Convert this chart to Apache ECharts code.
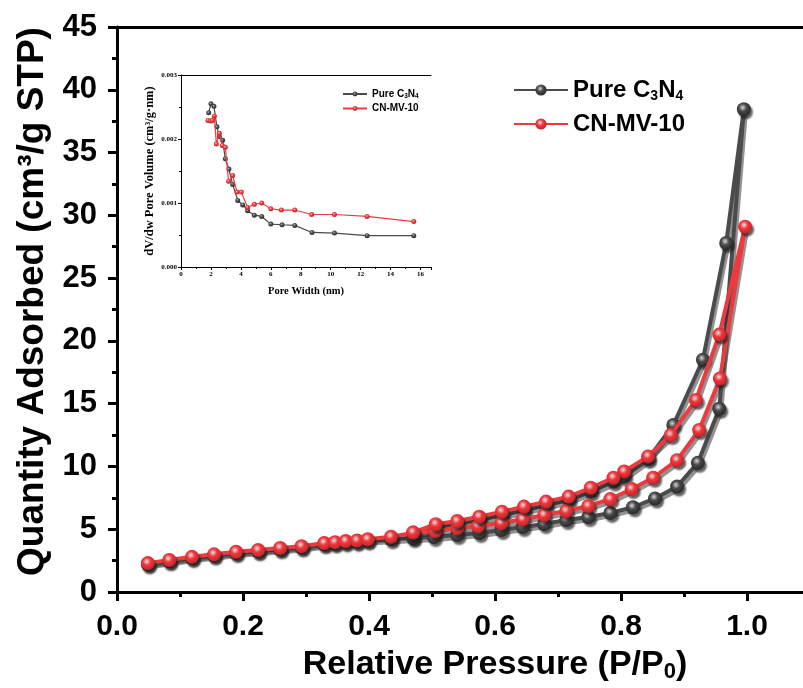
<!DOCTYPE html>
<html>
<head>
<meta charset="utf-8">
<script src="https://cdn.jsdelivr.net/npm/echarts@6/dist/echarts.min.js"></script>
<style>
  html, body { margin: 0; padding: 0; background: #fff; overflow: hidden; }
  #main { width: 880px; height: 688px; }
</style>
</head>
<body>
<div id="main"></div>
<script>
// main isotherm: adsorption branch then desorption branch (P/P0, cm3/g STP)
var pureP = [0.049, 0.083, 0.119, 0.154, 0.189, 0.224, 0.259, 0.293, 0.329, 0.346, 0.363, 0.381, 0.398, 0.435, 0.470, 0.503, 0.540, 0.575, 0.610, 0.644, 0.678, 0.713, 0.748, 0.783, 0.819, 0.854, 0.889, 0.922, 0.956, 0.995,
             0.967, 0.930, 0.883, 0.843, 0.805, 0.788, 0.752, 0.717, 0.681, 0.646, 0.611, 0.575, 0.540, 0.506, 0.470];
var pureQ = [2.2, 2.45, 2.7, 2.9, 3.1, 3.25, 3.4, 3.55, 3.8, 3.87, 3.95, 4.0, 4.1, 4.2, 4.3, 4.38, 4.54, 4.7, 4.94, 5.17, 5.41, 5.73, 5.97, 6.3, 6.75, 7.45, 8.4, 10.3, 14.6, 38.45,
             27.8, 18.5, 13.3, 10.6, 9.2, 8.8, 8.0, 7.35, 6.9, 6.5, 6.1, 5.75, 5.45, 5.2, 4.4];
var cnP = [0.049, 0.083, 0.119, 0.154, 0.189, 0.224, 0.259, 0.293, 0.329, 0.346, 0.363, 0.381, 0.398, 0.435, 0.470, 0.505, 0.540, 0.573, 0.610, 0.644, 0.678, 0.713, 0.748, 0.783, 0.817, 0.851, 0.889, 0.924, 0.957, 0.997,
           0.956, 0.919, 0.879, 0.843, 0.805, 0.788, 0.752, 0.717, 0.681, 0.646, 0.611, 0.575, 0.540, 0.506, 0.470];
var cnQ = [2.3, 2.55, 2.8, 3.0, 3.2, 3.34, 3.5, 3.65, 3.9, 3.97, 4.06, 4.1, 4.2, 4.4, 4.7, 4.86, 5.1, 5.25, 5.5, 5.8, 6.13, 6.45, 6.85, 7.4, 8.2, 9.1, 10.5, 12.9, 17.0, 29.1,
           20.5, 15.3, 12.5, 10.8, 9.6, 9.1, 8.3, 7.6, 7.2, 6.8, 6.4, 6.0, 5.65, 5.4, 4.75];

// inset: pore size distribution (nm, cm3/g·nm)
var pureW = [1.85, 2.0, 2.2, 2.4, 2.56, 2.78, 2.96, 3.2, 3.45, 3.79, 4.12, 4.45, 4.9, 5.39, 6.0, 6.75, 7.6, 8.75, 10.25, 12.43, 15.55];
var pureV = [0.00241, 0.00255, 0.00251, 0.00219, 0.00204, 0.00198, 0.00169, 0.00153, 0.00129, 0.00104, 0.00097, 0.00088, 0.00081, 0.00079, 0.00067, 0.00066, 0.00065, 0.00054, 0.00053, 0.00049, 0.00049];
var cnW = [1.8, 1.96, 2.09, 2.23, 2.36, 2.56, 2.76, 2.96, 3.18, 3.45, 3.74, 4.03, 4.45, 4.9, 5.39, 6.0, 6.7, 7.6, 8.73, 10.25, 12.43, 15.55];
var cnV = [0.00229, 0.00228, 0.00229, 0.00236, 0.00192, 0.00209, 0.0019, 0.00187, 0.00134, 0.00143, 0.00117, 0.00117, 0.00093, 0.00098, 0.001, 0.00091, 0.00089, 0.00089, 0.00082, 0.00082, 0.00079, 0.00071];

var xTicks = [0, 0.2, 0.4, 0.6, 0.8, 1.0];

function pairs(a, b) {
  var out = [];
  for (var i = 0; i < a.length; i++) out.push([a[i], b[i]]);
  return out;
}
function ball(c0, c1, c2) {
  return new echarts.graphic.RadialGradient(0.42, 0.38, 0.6, [
    { offset: 0, color: c0 }, { offset: 0.45, color: c1 }, { offset: 1, color: c2 }
  ]);
}

var GRAY = '#4b4b4b', RED = '#ec3a3f';
var sans = '"Liberation Sans", Arial, sans-serif';
var serif = '"Liberation Serif", "Times New Roman", serif';

// the div is wider than the window: the x axis runs on past 1.0 and is cut off at the right edge
var chart = echarts.init(document.getElementById('main'));

var option = {
  animation: false,
  backgroundColor: '#fff',
  grid: [
    { left: 117, top: 27, width: 756, bottom: 96, containLabel: false },
    { left: 181, top: 75, width: 250, height: 192, containLabel: false }
  ],
  legend: [
    {
      data: ['Pure C3N4', 'CN-MV-10'],
      left: 508, top: 73, orient: 'vertical', itemGap: 9,
      itemWidth: 54, itemHeight: 14,
      formatter: function (n) {
        return n === 'Pure C3N4' ? '{b|Pure C}{s|3}{b|N}{s|4}' : '{b|' + n + '}';
      },
      textStyle: {
        rich: {
          b: { fontFamily: sans, fontWeight: 'bold', fontSize: 24, color: '#000', lineHeight: 26 },
          s: { fontFamily: sans, fontWeight: 'bold', fontSize: 14, color: '#000', verticalAlign: 'bottom', lineHeight: 12 }
        }
      }
    },
    {
      data: ['Pure C3N4 ', 'CN-MV-10 '],
      left: 337, top: 84, orient: 'vertical', itemGap: 4,
      itemWidth: 24, itemHeight: 6,
      formatter: function (n) {
        return n === 'Pure C3N4 ' ? '{b|Pure C}{s|3}{b|N}{s|4}' : '{b|' + n.trim() + '}';
      },
      textStyle: {
        rich: {
          b: { fontFamily: sans, fontWeight: 'bold', fontSize: 10, color: '#000', lineHeight: 11 },
          s: { fontFamily: sans, fontWeight: 'bold', fontSize: 6.5, color: '#000', verticalAlign: 'bottom', lineHeight: 5 }
        }
      }
    }
  ],
  xAxis: [
    {
      type: 'value', gridIndex: 0, min: 0, max: 1.2, interval: 0.2,
      name: '{a|Relative Pressure (P/P}{s|0}{a|)}',
      nameLocation: 'middle', nameGap: 55,
      nameTextStyle: {
        rich: {
          a: { fontFamily: sans, fontWeight: 'bold', fontSize: 34, color: '#000', lineHeight: 36 },
          s: { fontFamily: sans, fontWeight: 'bold', fontSize: 22, color: '#000', verticalAlign: 'bottom', lineHeight: 20 }
        }
      },
      axisLine: { onZero: false, lineStyle: { color: '#000', width: 3 } },
      axisTick: { inside: false, length: 9, lineStyle: { width: 3 } },
      minorTick: { show: true, splitNumber: 2, length: 5, lineStyle: { color: '#000', width: 3 } },
      axisLabel: {
        fontFamily: sans, fontWeight: 'bold', fontSize: 30, color: '#000', margin: 20,
        formatter: function (v) { return xTicks.indexOf(+v.toFixed(1)) >= 0 ? v.toFixed(1) : ''; }
      },
      splitLine: { show: false }
    },
    {
      type: 'value', gridIndex: 0, position: 'top', min: 0, max: 1.2,
      axisLine: { onZero: false, lineStyle: { color: '#000', width: 3 } },
      axisTick: { show: false }, axisLabel: { show: false }, splitLine: { show: false }
    },
    {
      type: 'value', gridIndex: 1, min: 0, max: 16.7, interval: 2,
      name: 'Pore Width (nm)', nameLocation: 'middle', nameGap: 19,
      nameTextStyle: { fontFamily: serif, fontWeight: 'bold', fontSize: 10.5, color: '#000' },
      axisLine: { onZero: false, lineStyle: { color: '#000', width: 1 } },
      axisTick: { length: 3, lineStyle: { width: 1 } },
      minorTick: { show: true, splitNumber: 2, length: 2, lineStyle: { color: '#000' } },
      axisLabel: {
        fontFamily: serif, fontWeight: 'bold', fontSize: 7, color: '#000', margin: 4,
        formatter: function (v) { return v <= 16 ? String(v) : ''; }
      },
      splitLine: { show: false }
    },
    {
      type: 'value', gridIndex: 1, position: 'top', min: 0, max: 16.7,
      axisLine: { onZero: false, lineStyle: { color: '#000', width: 1 } },
      axisTick: { show: false }, axisLabel: { show: false }, splitLine: { show: false }
    }
  ],
  yAxis: [
    {
      type: 'value', gridIndex: 0, min: 0, max: 45, interval: 5,
      name: 'Quantity Adsorbed (cm³/g STP)', nameLocation: 'middle', nameGap: 66,
      nameTextStyle: { fontFamily: sans, fontWeight: 'bold', fontSize: 37, color: '#000', padding: [0, 0, 0, 16] },
      axisLine: { onZero: false, lineStyle: { color: '#000', width: 3 } },
      axisTick: { length: 9, lineStyle: { width: 3 } },
      minorTick: { show: true, splitNumber: 2, length: 5, lineStyle: { color: '#000', width: 3 } },
      axisLabel: { fontFamily: sans, fontWeight: 'bold', fontSize: 31, color: '#000', margin: 20 },
      splitLine: { show: false }
    },
    {
      type: 'value', gridIndex: 1, min: 0, max: 0.003, interval: 0.001,
      name: 'dV/dw Pore Volume (cm³/g·nm)', nameLocation: 'middle', nameGap: 25,
      nameTextStyle: { fontFamily: serif, fontWeight: 'bold', fontSize: 12.5, color: '#000' },
      axisLine: { onZero: false, lineStyle: { color: '#000', width: 1 } },
      axisTick: { length: 3, lineStyle: { width: 1 } },
      minorTick: { show: true, splitNumber: 2, length: 2, lineStyle: { color: '#000' } },
      axisLabel: {
        fontFamily: serif, fontWeight: 'bold', fontSize: 7, color: '#000', margin: 4,
        formatter: function (v) { return v.toFixed(3); }
      },
      splitLine: { show: false }
    }
  ],
  series: [
    {
      name: 'Pure C3N4', type: 'line', xAxisIndex: 0, yAxisIndex: 0,
      data: pairs(pureP, pureQ),
      symbol: 'circle', symbolSize: 14, showAllSymbol: true,
      lineStyle: { color: GRAY, width: 4, shadowColor: 'rgba(40,40,40,0.5)', shadowOffsetX: 2, shadowOffsetY: 3 },
      itemStyle: { color: ball('#d8d8d8', GRAY, '#2a2a2a'), shadowColor: 'rgba(30,30,30,0.7)', shadowOffsetX: 2, shadowOffsetY: 3, shadowBlur: 2 },
      z: 2
    },
    {
      name: 'CN-MV-10', type: 'line', xAxisIndex: 0, yAxisIndex: 0,
      data: pairs(cnP, cnQ),
      symbol: 'circle', symbolSize: 14, showAllSymbol: true,
      lineStyle: { color: RED, width: 4, shadowColor: 'rgba(40,40,40,0.5)', shadowOffsetX: 2, shadowOffsetY: 3 },
      itemStyle: { color: ball('#ffe0e0', RED, '#c62428'), shadowColor: 'rgba(30,30,30,0.7)', shadowOffsetX: 2, shadowOffsetY: 3, shadowBlur: 2 },
      z: 3
    },
    {
      name: 'Pure C3N4 ', type: 'line', xAxisIndex: 2, yAxisIndex: 1,
      data: pairs(pureW, pureV),
      symbol: 'circle', symbolSize: 5, showAllSymbol: true,
      lineStyle: { color: GRAY, width: 1.2 },
      itemStyle: { color: ball('#bbbbbb', GRAY, '#333333') },
      z: 2
    },
    {
      name: 'CN-MV-10 ', type: 'line', xAxisIndex: 2, yAxisIndex: 1,
      data: pairs(cnW, cnV),
      symbol: 'circle', symbolSize: 5, showAllSymbol: true,
      lineStyle: { color: RED, width: 1.2 },
      itemStyle: { color: ball('#ffcccc', RED, '#c62428') },
      z: 3
    }
  ]
};

chart.setOption(option);
</script>
</body>
</html>
